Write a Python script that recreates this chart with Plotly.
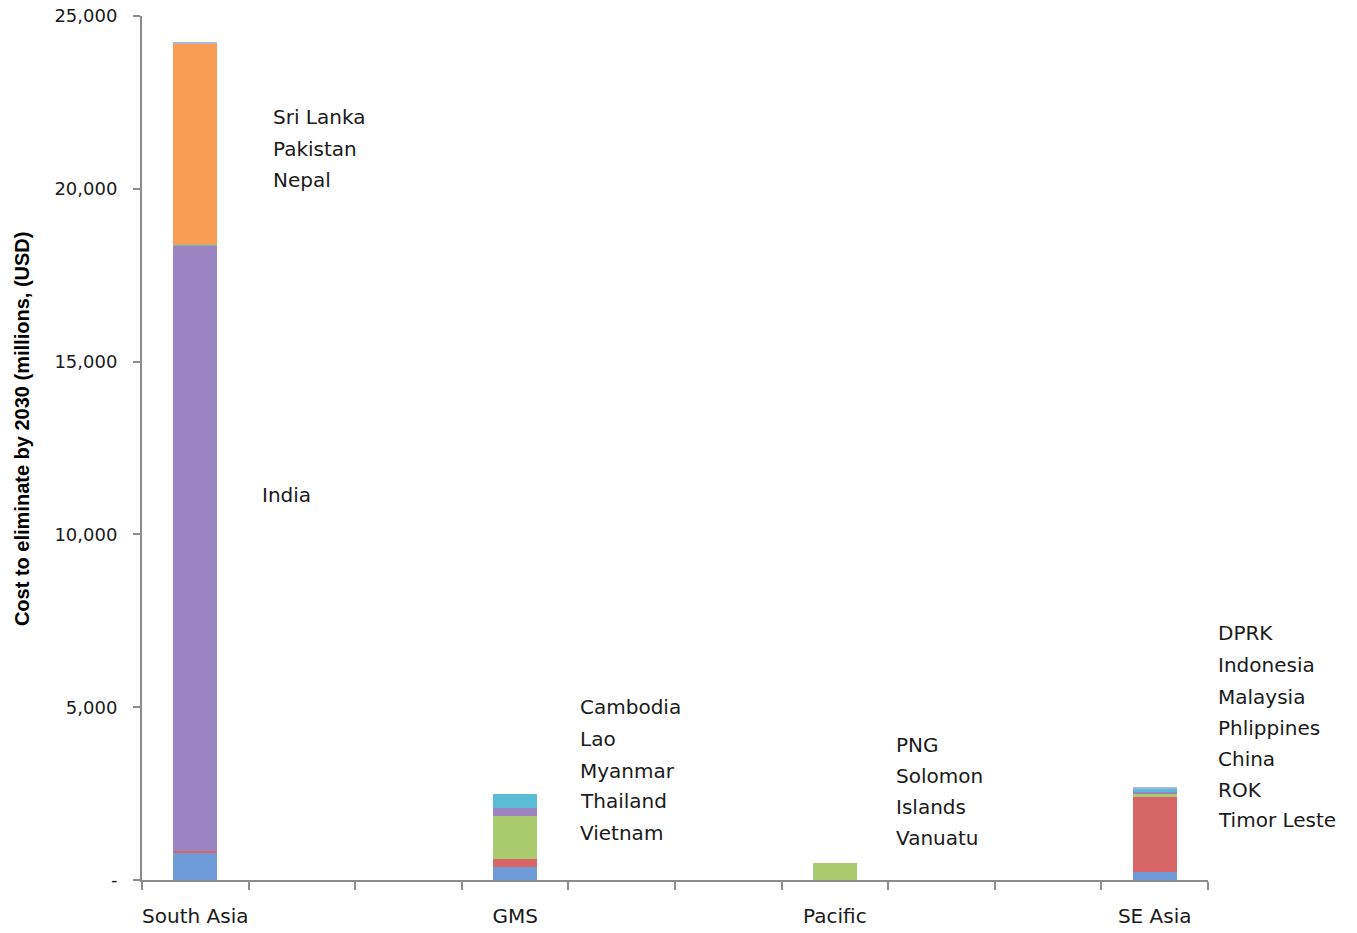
import plotly.graph_objects as go

# ---- data ----
regions = ["South Asia", "", "", "GMS", "", "", "Pacific", "", "", "SE Asia"]
s1 = [770, 0, 0, 370, 0, 0, 0, 0, 0, 220]
s2 = [75, 0, 0, 240, 0, 0, 0, 0, 0, 2210]
s3 = [0, 0, 0, 1245, 0, 0, 500, 0, 0, 50]
s4 = [17500, 0, 0, 240, 0, 0, 0, 0, 0, 80]
s5 = [30, 0, 0, 405, 0, 0, 0, 0, 0, 65]
s6 = [5820, 0, 0, 0, 0, 0, 0, 0, 0, 0]
s7 = [50, 0, 0, 0, 0, 0, 0, 0, 0, 80]
series = [s1, s2, s3, s4, s5, s6, s7]
y_ticks = [0, 5000, 10000, 15000, 20000, 25000]
y_ticktext = ["-", "5,000", "10,000", "15,000", "20,000", "25,000"]

# country text labels (text, x in paper units, y in value units)
labels = [
    ("Sri Lanka", 0.1210, 22077), ("Pakistan", 0.1210, 21152), ("Nepal", 0.1210, 20255),
    ("India", 0.1107, 11140),
    ("Cambodia", 0.4090, 5006), ("Lao", 0.4090, 4080), ("Myanmar", 0.4090, 3154),
    ("Thailand", 0.4090, 2286), ("Vietnam", 0.4090, 1360),
    ("PNG", 0.7054, 3906), ("Solomon", 0.7054, 3009), ("Islands", 0.7054, 2112),
    ("Vanuatu", 0.7054, 1215),
    ("DPRK", 1.0075, 7147), ("Indonesia", 1.0075, 6221), ("Malaysia", 1.0075, 5295),
    ("Phlippines", 1.0075, 4398), ("China", 1.0075, 3501), ("ROK", 1.0075, 2604),
    ("Timor Leste", 1.0075, 1736),
]

colors = ["#6f9bd8", "#d96666", "#a9ca6f", "#9b84c2", "#5bbcd8", "#f99d55", "#aab8dc"]

x = list(range(len(regions)))
fig = go.Figure()
for vals, col in zip(series, colors):
    fig.add_trace(go.Bar(x=x, y=vals, marker=dict(color=col, line=dict(width=0)),
                         showlegend=False, hoverinfo="skip"))

for txt, lx, ly in labels:
    fig.add_annotation(x=lx, y=ly, xref="paper", yref="y", text=txt, showarrow=False,
                       xanchor="left", yanchor="middle",
                       font=dict(family="DejaVu Sans", size=20, color="#1a1a1a"))

fig.add_annotation(x=-0.1126, y=0.523, xref="paper", yref="paper",
                   text="<b>Cost to eliminate by 2030 (millions, (USD)</b>",
                   textangle=-90, showarrow=False, xanchor="center", yanchor="middle",
                   font=dict(family="Liberation Sans", size=20, color="#000000"))

fig.update_layout(
    width=1349, height=925,
    barmode="stack", bargap=0.59,
    plot_bgcolor="white", paper_bgcolor="white",
    margin=dict(l=134, r=149, t=8, b=53, autoexpand=False),
    xaxis=dict(
        range=[-0.5, 9.5], tickvals=x, ticktext=regions,
        ticks="outside", ticklen=17, tickcolor="rgba(0,0,0,0)",
        ticklabeloverflow="allow",
        tickfont=dict(family="DejaVu Sans", size=20, color="#1a1a1a"),
        showline=True, linecolor="#8c8c8c", linewidth=2, showgrid=False, zeroline=False,
        minor=dict(tickvals=[i - 0.5 for i in range(len(regions) + 1)], ticks="outside",
                   ticklen=8, tickcolor="#8c8c8c", tickwidth=1.5, showgrid=False),
    ),
    yaxis=dict(
        range=[0, 25000], tickvals=y_ticks, ticktext=y_ticktext,
        ticks="outside", ticklen=7, tickcolor="#8c8c8c", tickwidth=1.5,
        ticklabelstandoff=12, ticklabeloverflow="allow",
        tickfont=dict(family="DejaVu Sans", size=18, color="#1a1a1a"),
        showline=True, linecolor="#8c8c8c", linewidth=2, showgrid=False, zeroline=False,
    ),
)

fig.write_html("out.html")
